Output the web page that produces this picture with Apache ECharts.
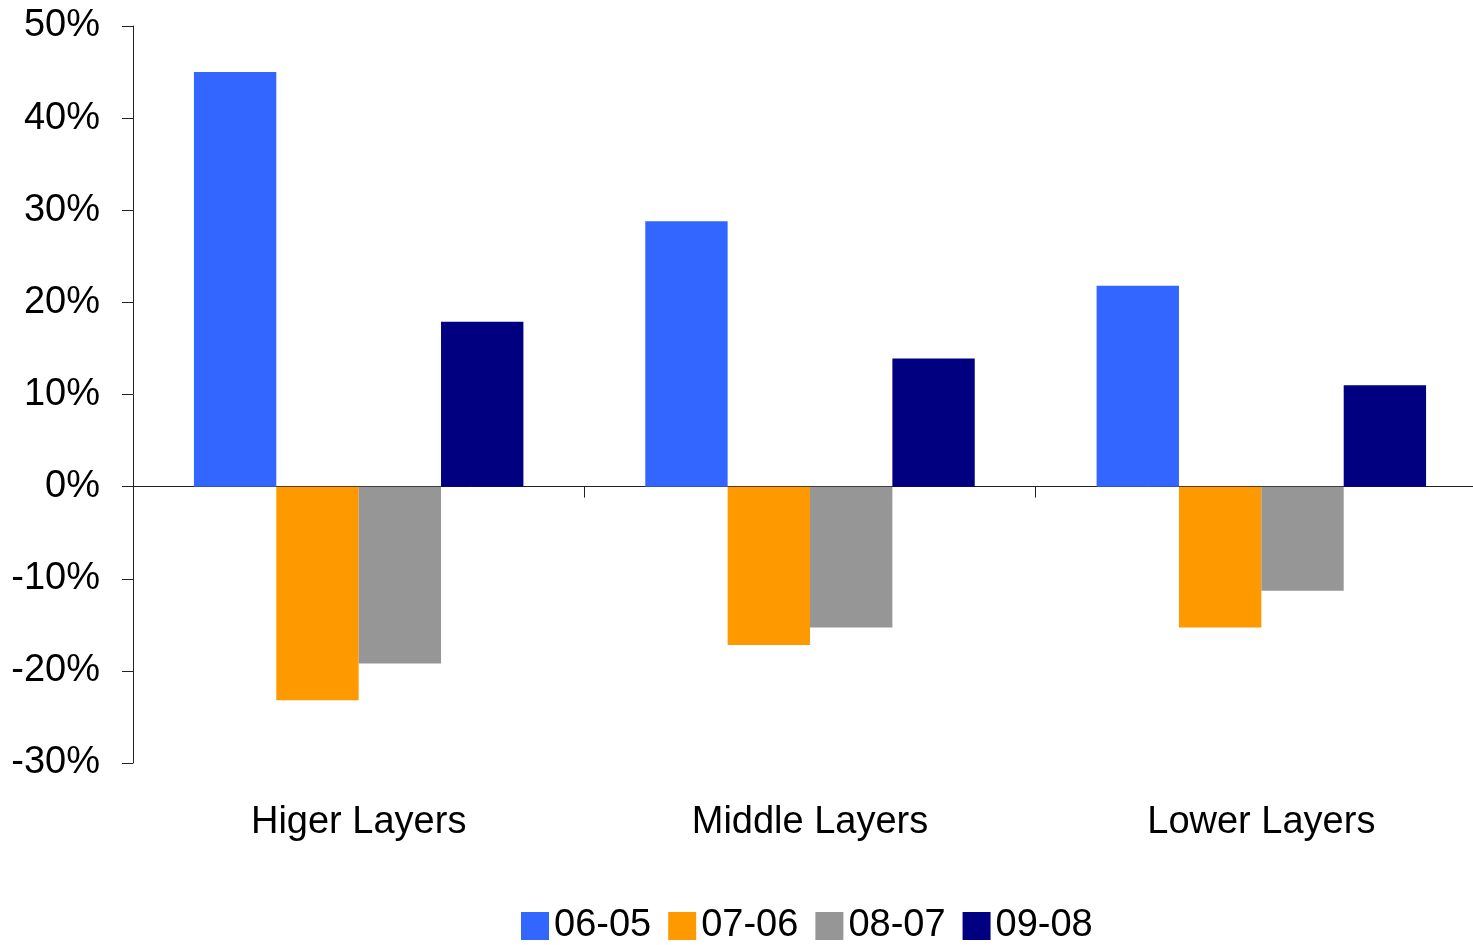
<!DOCTYPE html>
<html>
<head>
<meta charset="utf-8">
<script src="https://cdn.jsdelivr.net/npm/echarts@6/dist/echarts.min.js"></script>
<style>
  html, body { margin: 0; padding: 0; background: #fff; overflow: hidden; width: 1473px; height: 945px; }
  /* the plot area runs a little past the right edge of the page */
  #chart { width: 1487px; height: 945px; }
</style>
</head>
<body>
<div id="chart"></div>
<script>
// Year-over-year change by layer (percent)
const categories = ['Higer Layers', 'Middle Layers', 'Lower Layers'];
const seriesNames = ['06-05', '07-06', '08-07', '09-08'];
const s0605 = [45.0, 28.8, 21.8];
const s0706 = [-23.2, -17.2, -15.3];
const s0807 = [-19.2, -15.3, -11.3];
const s0908 = [17.9, 13.9, 11.0];
const yTicks = { min: -30, max: 50, step: 10 };

const colors = ['#3366FF', '#FF9900', '#969696', '#000080'];
const FONT = '"Liberation Sans", Arial, sans-serif';

const chart = echarts.init(document.getElementById('chart'), null, { renderer: 'canvas' });

const values = [s0605, s0706, s0807, s0908];

chart.setOption({
  animation: false,
  backgroundColor: '#ffffff',
  textStyle: { fontFamily: FONT },
  grid: { left: 133, top: 26, right: 0, bottom: 182, containLabel: false },
  legend: {
    data: seriesNames,
    left: 516,
    top: 902,
    icon: 'rect',
    itemWidth: 28,
    itemHeight: 28,
    itemGap: 17,
    textStyle: { fontFamily: FONT, fontSize: 38, color: '#000' }
  },
  xAxis: [
    {
      // zero line with category-boundary ticks
      type: 'category',
      data: categories,
      position: 'bottom',
      axisLine: { onZero: true, lineStyle: { color: '#222', width: 1 } },
      axisTick: { show: true, length: 11, lineStyle: { color: '#222' } },
      axisLabel: { show: false },
      splitLine: { show: false }
    },
    {
      // category names along the bottom of the plot
      type: 'category',
      data: categories,
      position: 'bottom',
      offset: 0,
      axisLine: { show: false, onZero: false },
      axisTick: { show: false },
      axisLabel: { show: true, margin: 41, fontFamily: FONT, fontSize: 38, color: '#000' },
      splitLine: { show: false }
    }
  ],
  yAxis: {
    type: 'value',
    min: yTicks.min,
    max: yTicks.max,
    interval: yTicks.step,
    axisLine: { show: true, lineStyle: { color: '#222', width: 1 } },
    axisTick: { show: true, length: 11, lineStyle: { color: '#222' } },
    axisLabel: {
      formatter: '{value}%',
      margin: 33,
      fontFamily: FONT,
      fontSize: 38,
      color: '#000'
    },
    splitLine: { show: false }
  },
  series: seriesNames.map((name, i) => ({
    name: name,
    type: 'bar',
    xAxisIndex: 0,
    data: values[i],
    barGap: '0%',
    barCategoryGap: '27%',
    itemStyle: { color: colors[i] }
  }))
});
</script>
</body>
</html>
